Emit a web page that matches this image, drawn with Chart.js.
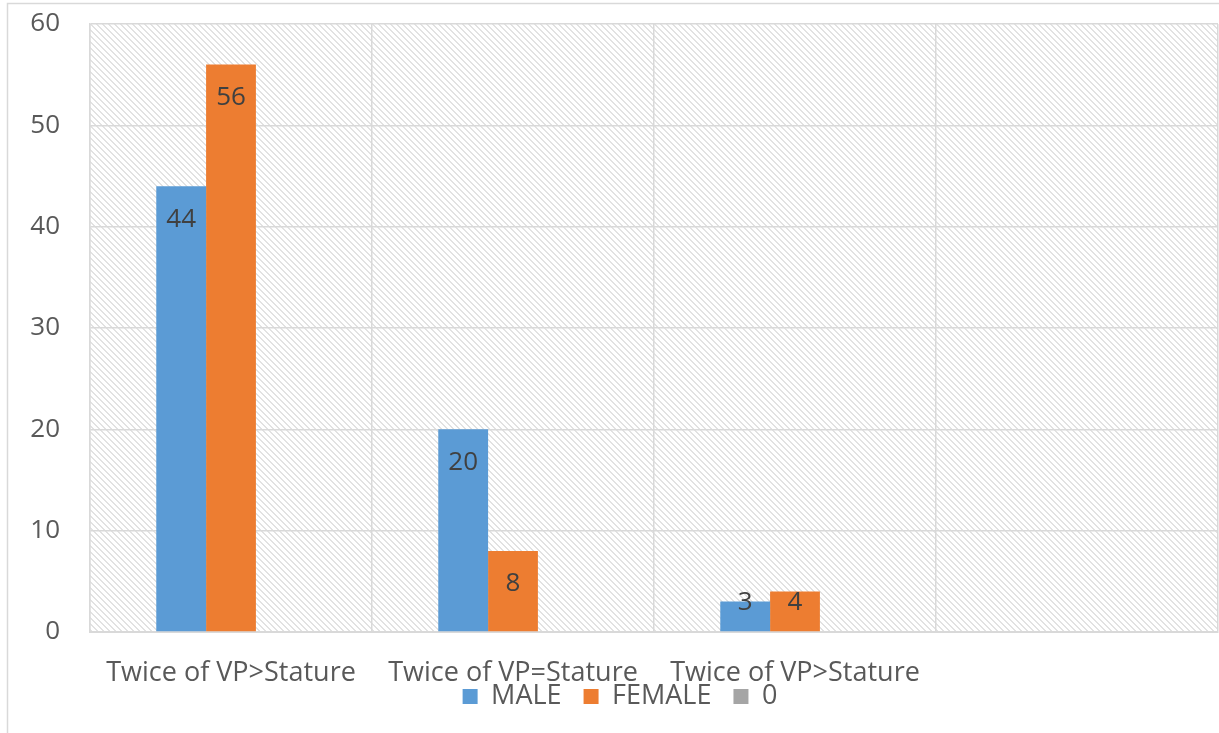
<!DOCTYPE html>
<html>
<head>
<meta charset="utf-8">
<script src="https://cdn.jsdelivr.net/npm/chart.js@4.4.0/dist/chart.umd.min.js"></script>
<style>
    html, body { margin: 0; padding: 0; background: #fff; overflow: hidden; }
    #wrap { width: 1219px; height: 733px; }
</style>
</head>
<body>
<div id="wrap"><canvas id="chart" width="1219" height="733"></canvas></div>
<script>
const categories = ['Twice of VP>Stature', 'Twice of VP=Stature', 'Twice of VP>Stature', ''];
const maleValues = [44, 20, 3, null];
const femaleValues = [56, 8, 4, null];
const zeroValues = [null, null, null, null];
const yTicks = [0, 10, 20, 30, 40, 50, 60];

const FONT = '"Open Sans", sans-serif';
const TEXT = '#595959';
const GRID = '#d9d9d9';

// hatch pattern for the plot area (light downward diagonal)
function makeHatch() {
    const c = document.createElement('canvas');
    c.width = 6; c.height = 6;
    const g = c.getContext('2d');
    g.fillStyle = '#ffffff';
    g.fillRect(0, 0, 6, 6);
    g.fillStyle = '#e2e2e2';
    for (let i = 0; i < 6; i++) {
        g.fillRect(i, i, 1, 1);
        g.fillRect((i + 1) % 6, i, 1, 1);
    }
    return g.createPattern(c, 'repeat');
}

const backdrop = {
    id: 'backdrop',
    afterLayout(chart) {
        // the legend sits tight under the category labels, as in the original
        const lg = chart.legend;
        if (lg) {
            lg.top -= 23; lg.bottom -= 23;
            lg.left += 11; lg.right += 11;
        }
    },
    beforeDraw(chart) {
        const { ctx, chartArea: a } = chart;
        ctx.save();
        // outer frame
        ctx.strokeStyle = GRID;
        ctx.lineWidth = 1.5;
        ctx.beginPath();
        ctx.moveTo(7.5, 740);
        ctx.lineTo(7.5, 3.5);
        ctx.lineTo(1230, 3.5);
        ctx.stroke();
        ctx.fillStyle = makeHatch();
        ctx.fillRect(a.left, a.top, a.right - a.left, a.bottom - a.top);
        ctx.restore();
    }
};

// value labels, inside end of each bar
const barLabels = {
    id: 'barLabels',
    afterDatasetsDraw(chart) {
        const ctx = chart.ctx;
        ctx.save();
        ctx.font = '26px ' + FONT;
        ctx.fillStyle = '#404040';
        ctx.textAlign = 'center';
        ctx.textBaseline = 'middle';
        [0, 1].forEach(di => {
            const meta = chart.getDatasetMeta(di);
            meta.data.forEach((bar, i) => {
                const v = chart.data.datasets[di].data[i];
                if (v == null) return;
                const y = Math.min(bar.y + 33, bar.base - 29);
                ctx.fillText(String(v), bar.x, y);
            });
        });
        ctx.restore();
    }
};

new Chart(document.getElementById('chart'), {
    type: 'bar',
    data: {
        labels: categories,
        datasets: [
            { label: 'MALE', data: maleValues, backgroundColor: '#5b9bd5' },
            { label: 'FEMALE', data: femaleValues, backgroundColor: '#ed7d31' },
            { label: '0', data: zeroValues, backgroundColor: '#a5a5a5' }
        ]
    },
    options: {
        responsive: false,
        animation: false,
        layout: { padding: { top: 24, right: 1, left: 0, bottom: -10 } },
        datasets: {
            bar: { categoryPercentage: 0.53, barPercentage: 1 }
        },
        plugins: {
            tooltip: { enabled: false },
            legend: {
                position: 'bottom',
                labels: {
                    font: { family: FONT, size: 27 },
                    color: TEXT,
                    boxWidth: 15,
                    boxHeight: 15,
                    padding: 22
                }
            }
        },
        scales: {
            x: {
                grid: { color: GRID, lineWidth: 1.5, drawTicks: false },
                border: { color: GRID, width: 2 },
                ticks: {
                    font: { family: FONT, size: 27 },
                    color: TEXT,
                    padding: 25,
                    maxRotation: 0,
                    autoSkip: false
                },
                afterFit(scale) {
                    scale.height = 52;
                    scale.paddingLeft = 0;
                    scale.paddingRight = 0;
                }
            },
            y: {
                min: 0,
                max: 60,
                afterBuildTicks(scale) { scale.ticks = yTicks.map(v => ({ value: v })); },
                grid: { color: GRID, lineWidth: 1.5, drawTicks: false },
                border: { color: GRID, width: 1.5 },
                ticks: {
                    font: { family: FONT, size: 26 },
                    color: TEXT,
                    padding: 30
                },
                afterFit(scale) {
                    scale.width = 90;
                    scale.paddingTop = 0;
                    scale.paddingBottom = 0;
                }
            }
        }
    },
    plugins: [backdrop, barLabels]
});
</script>
</body>
</html>
